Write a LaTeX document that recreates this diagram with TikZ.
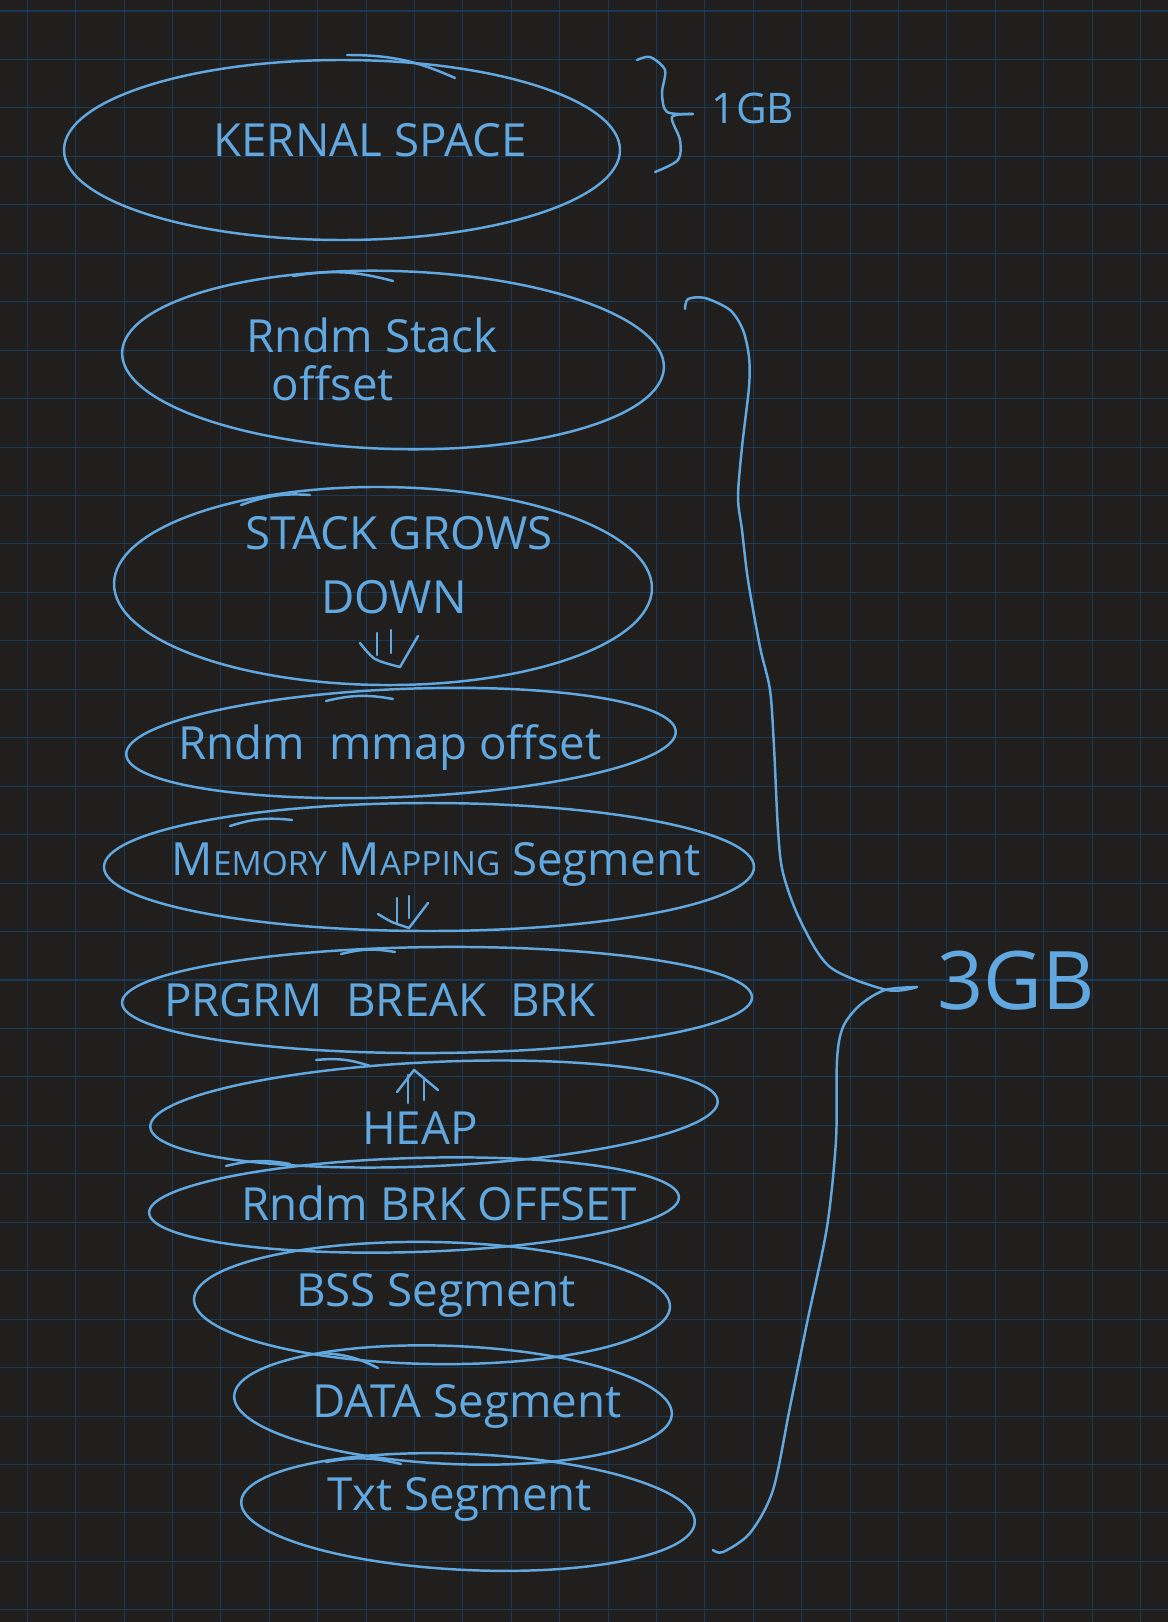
\documentclass[tikz,border=0pt]{standalone}
\usepackage{fontspec}
\setmainfont{Open Sans}
\definecolor{pen}{HTML}{62A8E0}
\definecolor{paper}{HTML}{201F1E}
\definecolor{rule}{HTML}{183A58}
\newcommand\sm[1]{{\fontsize{19}{22}\selectfont #1}}

\begin{document}
\begin{tikzpicture}[x=0.02cm,y=-0.02cm,
        pen/.style={draw=pen,line width=1.4pt,line cap=round,line join=round},
        lbl/.style={text=pen,inner sep=0pt,font=\fontsize{26}{30}\selectfont}]
        \useasboundingbox (0,0) rectangle (1168,1622);
        \fill[paper] (0,0) rectangle (1168,1622);
        \foreach\i in {0,...,23}{\draw[rule,line width=0.6pt] ({27.3+48.4*\i},0) -- ({27.3+48.4*\i},1622);}
        \foreach\j in {0,...,33}{\draw[rule,line width=0.6pt] (0,{11+48.45*\j}) -- (1168,{11+48.45*\j});}
        % segments: centre, radii, tilt
        \foreach\cx/\cy/\rx/\ry/\a in {342/150/278/90/0, 393/360/271/89/-1.6, 383/586/269/99/-0.5,
            401/743/275/54/2.4, 429/867/325/64/0, 437/1000/315/53/0.5, 434/1114/284/52/2.6,
            414/1205/265/47/1.7, 432/1303/238/61/-0.9, 453/1405/219/59/-2.4, 468/1512/227/58/-2.6}{
            \draw[pen,rotate around={\a:(\cx,\cy)}] (\cx,\cy) ellipse [x radius=\rx, y radius=\ry];
        }
        % pen tails at the top of each segment
        \foreach\ax/\ay/\bx/\by in {347/55/455/78, 293/276/393/281, 241/505/310/495, 326/701/393/699,
            230/826/292/820, 341/954/395/952, 316/1060/370/1066, 226/1166/290/1164,
            321/1353/378/1368, 326/1462/401/1464}{
            \draw[pen] (\ax,\ay) to[bend left=12] (\bx,\by);
        }
        % labels
        \node[lbl] (kernal) at (370,140) {KERNAL SPACE};
        \node[lbl] (rndstack) at (372,335) {Rndm Stack};
        \node[lbl] (offset) at (333,383) {offset};
        \node[lbl] (grows) at (399,533) {STACK GROWS};
        \node[lbl] (down) at (394,597) {DOWN};
        \node[lbl] (mmap) at (390,748) {Rndm\ \ mmap offset};
        \node[lbl] (mapping) at (436,864) {M\sm{EMORY}\ M\sm{APPING}\ Segment};
        \node[lbl] (brk) at (380,1000) {PRGRM\ \ BREAK\ \ BRK};
        \node[lbl] (heap) at (420,1128) {HEAP};
        \node[lbl] (brkoff) at (439,1203) {Rndm\ BRK OFFSET};
        \node[lbl] (bss) at (436,1295) {BSS Segment};
        \node[lbl] (data) at (467,1406) {DATA Segment};
        \node[lbl] (txt) at (460,1499) {Txt Segment};
        \node[lbl,font=\fontsize{24}{26}\selectfont] (onegb) at (753,108) {1GB};
        \node[lbl,font=\fontsize{46}{50}\selectfont] (threegb) at (1016,981) {3GB};
        % grow arrows
        \draw[pen] (377,633) -- (377,655); \draw[pen] (391,630) -- (391,653);
        \draw[pen] plot[smooth] coordinates {(360,643) (375,659) (400,667)} -- (418,636);
        \draw[pen] (397,898) -- (397,923); \draw[pen] (409,896) -- (409,918);
        \draw[pen] plot[smooth] coordinates {(378,914) (392,922) (409,928)} -- (428,903);
        \draw[pen] (408,1075) -- (408,1103); \draw[pen] (424,1080) -- (424,1100);
        \draw[pen] (397,1092) -- (414,1070) -- (438,1090);
        % braces
        \draw[pen] plot[smooth] coordinates {(637,60) (650,57) (665,70) (662,93) (667,112) (693,114)};
        \draw[pen] plot[smooth] coordinates {(693,114) (672,117) (680,140) (678,160) (655,172)};
        \draw[pen] plot[smooth] coordinates {(685,309) (688,299) (705,298) (730,310) (743,330) (749,357)
            (749,387) (742,447) (738,497) (742,530) (748,580) (760,647) (770,690) (774,747) (778,830)
            (783,873) (800,920) (830,967) (887,990) (917,987)};
        \draw[pen] plot[smooth] coordinates {(917,987) (885,990) (860,1005) (843,1027) (837,1060)
            (836,1140) (827,1227) (807,1323) (790,1407) (773,1490) (750,1533) (723,1552) (713,1550)};
\end{tikzpicture}
\end{document}
